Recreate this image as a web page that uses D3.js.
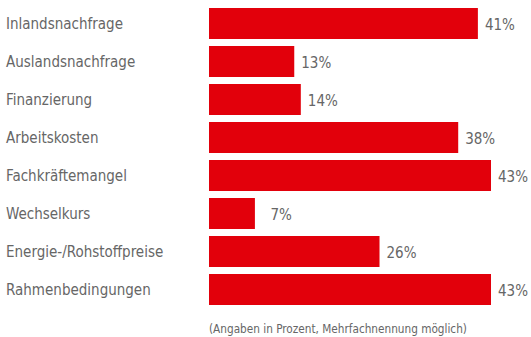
<!DOCTYPE html>
<html>
<head>
<meta charset="utf-8">
<script src="https://cdn.jsdelivr.net/npm/d3@7"></script>
<style>
  html, body { margin: 0; padding: 0; background: #fff; }
  svg { display: block; }
  text { font-family: "DejaVu Sans Condensed", "DejaVu Sans", sans-serif; font-stretch: condensed; fill: #666; }
</style>
</head>
<body>
<div id="chart"></div>
<script>
const categories = ["Inlandsnachfrage", "Auslandsnachfrage", "Finanzierung", "Arbeitskosten",
  "Fachkräftemangel", "Wechselkurs", "Energie-/Rohstoffpreise", "Rahmenbedingungen"];
const values = [41, 13, 14, 38, 43, 7, 26, 43];
const footnote = "(Angaben in Prozent, Mehrfachnennung möglich)";

const width = 531
const height = 337
const margin = ({ top: 8, left: 209 })
const step = 38
const gap = 7

const svg = d3.select("#chart").append("svg")
  .attr("width", width)
  .attr("height", height)
  .attr("viewBox", [0, 0, width, height]);

// 43% -> 282px
const x = d3.scaleLinear()
  .domain([0, 43])
  .range([margin.left, margin.left + 282])

const y = d3.scaleBand()
  .domain(categories)
  .range([margin.top, margin.top + step * categories.length - gap])
  .paddingInner(gap / step)
  .paddingOuter(0)

svg.append("g")
  .selectAll("rect")
  .data(values)
  .join("rect")
  .attr("x", x(0))
  .attr("y", (d, i) => y(categories[i]))
  .attr("width", d => x(d) - x(0))
  .attr("height", y.bandwidth())
  .attr("fill", "#e2000b");

svg.append("g")
  .selectAll("text")
  .data(categories)
  .join("text")
  .attr("x", 6)
  .attr("y", d => y(d) + y.bandwidth() / 2 + 5)
  .attr("font-size", 15)
  .text(d => d);

svg.append("g")
  .selectAll("text")
  .data(values)
  .join("text")
  .attr("x", d => x(d) + 37)
  .attr("y", (d, i) => y(categories[i]) + y.bandwidth() / 2 + 6)
  .attr("text-anchor", "end")
  .attr("font-size", 15)
  .text(d => d + "%");

svg.append("text")
  .attr("x", margin.left)
  .attr("y", 333)
  .attr("font-size", 11.7)
  .text(footnote);
</script>
</body>
</html>
